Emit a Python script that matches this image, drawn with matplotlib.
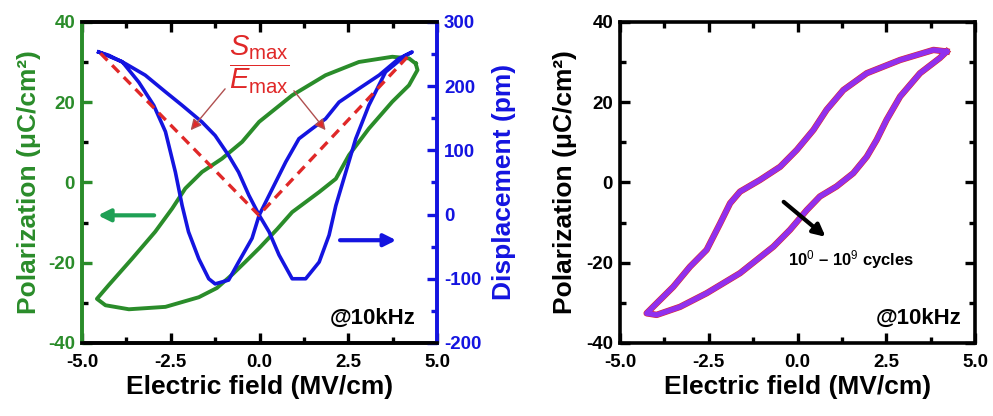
import numpy as np
import matplotlib
matplotlib.use("Agg")
import matplotlib.pyplot as plt
from matplotlib.ticker import MultipleLocator

plt.rcParams['font.family'] = ['Liberation Sans', 'DejaVu Sans']
plt.rcParams['font.weight'] = 'bold'
plt.rcParams['axes.labelweight'] = 'bold'
plt.rcParams['axes.unicode_minus'] = False
plt.rcParams['mathtext.fontset'] = 'custom'
plt.rcParams['mathtext.rm'] = 'Liberation Sans:weight=normal'
plt.rcParams['mathtext.it'] = 'Liberation Sans:style=italic:weight=normal'
plt.rcParams['mathtext.bf'] = 'Liberation Sans:weight=bold'

GREEN = '#2a8c2a'
BLUE = '#1414e0'
RED = '#e02828'
PURPLE = '#9030ee'

# --- left panel: P-E loop (green, left axis) ---
pe_E = [4.4, 4.21, 3.74, 2.8, 1.86, 0.92, -0.01, -0.49, -1.06, -1.62, -2.09, -2.46, -2.94,
        -3.59, -4.25, -4.58,
        -4.34, -3.68, -2.65, -1.71, -1.2, -0.75, -0.4, 0.0, 0.5, 0.92, 1.68, 2.15, 2.52,
        3.08, 3.74, 4.21, 4.45, 4.4]
pe_P = [29.6, 30.9, 31.3, 30.0, 26.7, 21.7, 15.1, 10.1, 5.9, 2.6, -1.5, -6.5, -12.3,
        -19.0, -25.6, -29.0,
        -30.6, -31.6, -31.0, -28.6, -26.3, -22.8, -19.8, -16.3, -11.6, -7.4, -2.4, 0.9, 6.8,
        13.4, 20.1, 24.2, 28.0, 29.6]

# --- left panel: butterfly displacement (blue, right axis) ---
s_E = [-4.53, -3.87, -3.4, -2.98, -2.65, -2.37, -2.18, -2.0, -1.71, -1.43, -1.25, -0.87,
       -0.59, -0.21, -0.01,
       0.36, 0.74, 1.11, 1.49, 1.86, 2.24, 2.8, 3.37, 3.93, 4.3,
       4.12, 3.55, 3.08, 2.71, 2.43, 2.15, 1.96, 1.68, 1.3, 0.92, 0.55, 0.27, -0.01,
       -0.3, -0.59, -0.87, -1.25, -1.62, -2.18, -2.65, -3.22, -3.78, -4.25, -4.53]
s_D = [253, 238, 206, 170, 129, 66, 14, -27, -69, -100, -108, -102,
       -74, -37, -1,
       40, 82, 118, 134, 149, 175, 196, 217, 243, 253,
       248, 222, 170, 118, 66, 14, -32, -74, -100, -100, -63, -27, -1,
       30, 66, 92, 123, 144, 170, 191, 217, 235, 248, 253]

# S_max / E_max guide lines
guide_E = [-4.48, -0.02, 4.21]
guide_D = [251, -1, 248]

# --- right panel: fatigue loops ---
fat_E = [4.2, 3.83, 2.89, 1.95, 1.29, 0.82, 0.45, -0.02, -0.49, -1.06, -1.62, -1.9, -2.18, -2.56,
         -3.03, -3.5, -4.07, -4.25,
         -3.97, -3.31, -2.56, -1.62, -0.68, -0.21, 0.26, 0.63, 1.1, 1.57, 1.95, 2.23, 2.51,
         2.89, 3.45, 4.01, 4.2]
fat_P = [32.6, 33.0, 30.5, 27.2, 23.0, 18.1, 13.1, 8.1, 3.9, 0.6, -2.3, -5.2, -10.2, -16.8,
         -21.0, -26.0, -31.0, -32.6,
         -33.0, -31.0, -27.6, -22.6, -16.0, -11.8, -6.9, -3.5, -1.0, 2.3, 6.4, 10.6, 15.6,
         21.4, 27.2, 31.0, 32.6]

fig = plt.figure(figsize=(9.93, 4.16), dpi=100)
ax = fig.add_axes([0.0826, 0.1755, 0.3575, 0.772])
ax2 = ax.twinx()
axr = fig.add_axes([0.6244, 0.1755, 0.3575, 0.772])

ax.plot(pe_E, pe_P, color=GREEN, lw=2.8)
ax2.plot(s_E, s_D, color=BLUE, lw=2.6)
ax2.plot(guide_E, guide_D, color=RED, lw=2.4, ls=(0, (3, 2)))

ax.set_xlim(-5, 5)
ax.set_ylim(-40, 40)
ax2.set_ylim(-200, 300)

for a in (ax, ax2, axr):
    a.xaxis.set_major_locator(MultipleLocator(2.5))
    a.xaxis.set_minor_locator(MultipleLocator(1.25))
    for s in a.spines.values():
        s.set_linewidth(2.6)
ax.yaxis.set_major_locator(MultipleLocator(20))
ax.yaxis.set_minor_locator(MultipleLocator(10))
ax2.yaxis.set_major_locator(MultipleLocator(100))
ax2.yaxis.set_minor_locator(MultipleLocator(50))

ax.tick_params(which='both', direction='in', top=True, right=False, width=2.4, labelsize=13.5)
ax.tick_params(which='major', length=7)
ax.tick_params(which='minor', length=4)
ax.tick_params(axis='x', pad=8)
ax.tick_params(axis='y', colors=GREEN, pad=5)
ax2.tick_params(which='both', direction='in', width=2.4, labelsize=13.5, colors=BLUE, pad=5)
ax2.tick_params(which='major', length=7)
ax2.tick_params(which='minor', length=4)
ax.spines['left'].set_color(GREEN)
ax2.spines['left'].set_color(GREEN)
ax2.spines['right'].set_color(BLUE)
ax.spines['right'].set_color(BLUE)

ax.set_xlabel('Electric field (MV/cm)', fontsize=19, labelpad=3)
ax.set_ylabel('Polarization (μC/cm²)', fontsize=19, color=GREEN)
ax.yaxis.set_label_coords(-0.115, 0.5)
ax2.set_ylabel('Displacement (pm)', fontsize=19, color=BLUE)
ax2.yaxis.set_label_coords(1.155, 0.5)

ax2.text(0.0, 233, r'$\dfrac{S_{\mathrm{max}}}{E_{\mathrm{max}}}$', color=RED, fontsize=21,
         ha='center', va='center')
ax2.annotate('', xy=(-1.99, 128), xytext=(-0.92, 199),
             arrowprops=dict(arrowstyle='-|>', fc=RED, ec='#b05050', lw=1, mutation_scale=16))
ax2.annotate('', xy=(1.91, 128), xytext=(0.92, 196),
             arrowprops=dict(arrowstyle='-|>', fc=RED, ec='#b05050', lw=1, mutation_scale=16))
ax.annotate('', xy=(-4.63, -8.2), xytext=(-2.89, -8.2),
            arrowprops=dict(arrowstyle='-|>', color='#1fa055', lw=3, mutation_scale=18))
ax.annotate('', xy=(3.93, -14.4), xytext=(2.19, -14.4),
            arrowprops=dict(arrowstyle='-|>', color=BLUE, lw=3, mutation_scale=18))
ax.text(4.4, -34.0, '@10kHz', fontsize=16, ha='right', va='center')

# right panel
axr.plot(fat_E, fat_P, color=RED, lw=4.6)
axr.plot(fat_E, fat_P, color=PURPLE, lw=3.8)
axr.set_xlim(-5, 5)
axr.set_ylim(-40, 40)
axr.yaxis.set_major_locator(MultipleLocator(20))
axr.yaxis.set_minor_locator(MultipleLocator(10))
axr.tick_params(which='both', direction='in', top=True, right=True, width=2.4, labelsize=13.5)
axr.tick_params(which='major', length=7)
axr.tick_params(which='minor', length=4)
axr.tick_params(axis='x', pad=8)
axr.tick_params(axis='y', pad=5)
axr.set_xlabel('Electric field (MV/cm)', fontsize=19, labelpad=3)
axr.set_ylabel('Polarization (μC/cm²)', fontsize=19)
axr.yaxis.set_label_coords(-0.12, 0.5)
axr.annotate('', xy=(0.85, -14.0), xytext=(-0.45, -4.4),
             arrowprops=dict(arrowstyle='-|>', color='black', lw=3, mutation_scale=18))
axr.text(-0.27, -19.3, r'10$^{0}$ – 10$^{9}$ cycles', fontsize=12, ha='left', va='center')
axr.text(4.63, -33.8, '@10kHz', fontsize=16, ha='right', va='center')

fig.savefig('out.png', dpi=100)
